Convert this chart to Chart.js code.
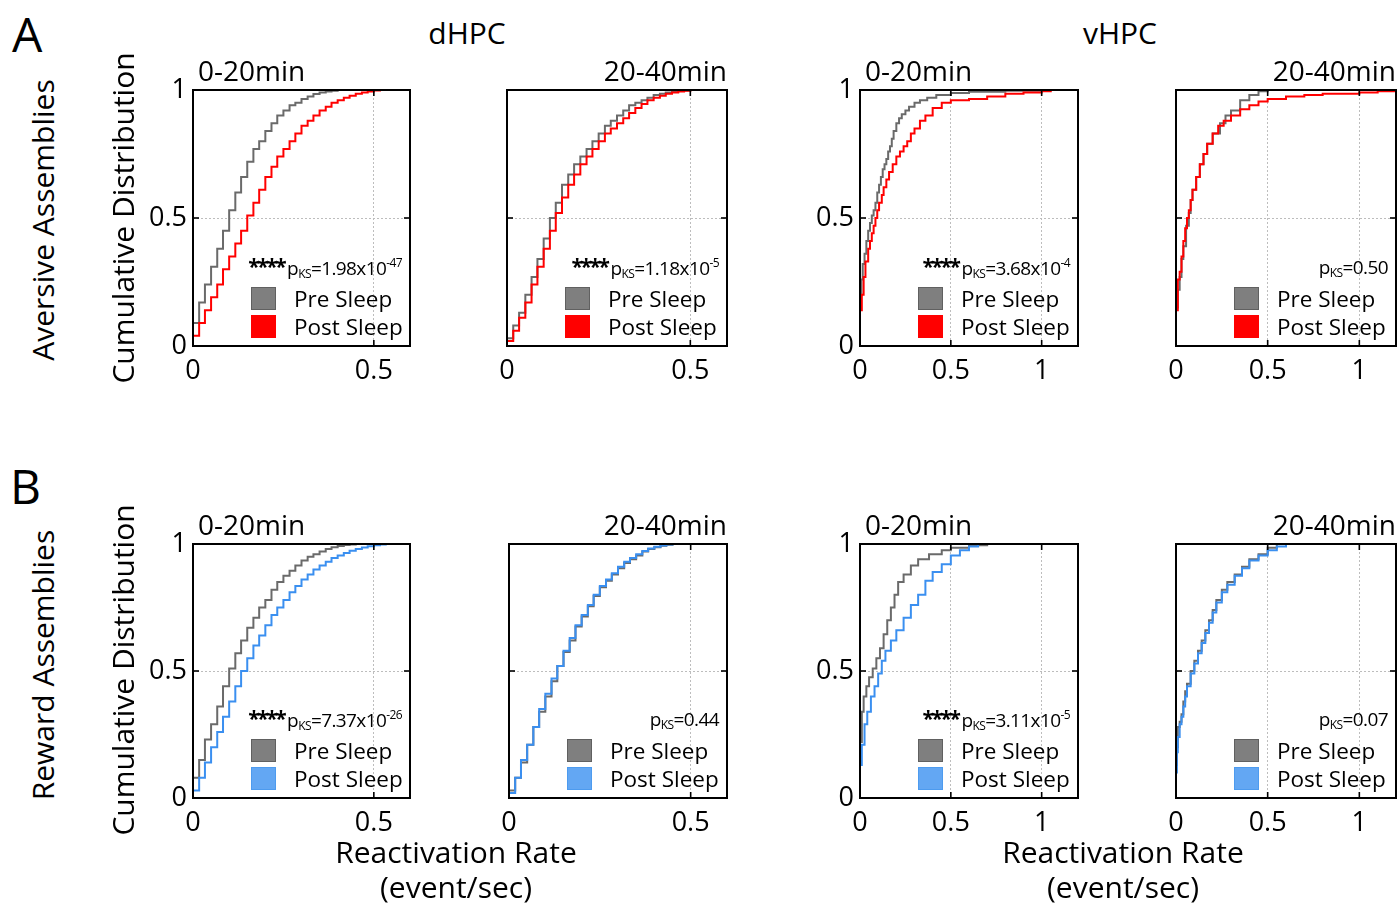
<!DOCTYPE html>
<html>
<head>
<meta charset="utf-8">
<script src="https://cdn.jsdelivr.net/npm/chart.js@4.4.1/dist/chart.umd.min.js"></script>
<style>
    body { margin: 0; background: #fff; width: 1397px; height: 904px; position: relative; overflow: hidden; font-family: 'Open Sans', sans-serif; color: #000; }
    canvas { position: absolute; }
    .t { position: absolute; white-space: nowrap; line-height: 1; }
    .sq { position: absolute; width: 23px; height: 21px; border: 1px solid; }
    .pv { position: absolute; white-space: nowrap; line-height: 1; font-size: 19px; letter-spacing: -0.6px; }
    .pv .st { font-size: 21px; font-weight: bold; vertical-align: 1px; letter-spacing: -2.5px; margin-right: 3px; }
    .pv sub { font-size: 12px; vertical-align: -3px; }
    .pv sup { font-size: 12px; vertical-align: 8px; }
</style>
</head>
<body>
<script>
// reactivation rate bins for dHPC (event/sec)
const dhpcRate = [0, 0.017, 0.033, 0.05, 0.067, 0.083, 0.1, 0.117, 0.133, 0.15, 0.167, 0.183, 0.2, 0.217, 0.233, 0.25, 0.267, 0.283, 0.3, 0.317, 0.333, 0.35, 0.367, 0.383, 0.4, 0.417, 0.433, 0.45, 0.467, 0.483, 0.5, 0.517, 0.533, 0.55, 0.567, 0.583, 0.6];

// A - aversive assemblies, dHPC
const avDhpcEarlyPre  = [0.09, 0.17, 0.24, 0.31, 0.38, 0.45, 0.53, 0.60, 0.66, 0.72, 0.77, 0.80, 0.84, 0.87, 0.90, 0.92, 0.94, 0.95, 0.965, 0.975, 0.984, 0.99, 0.994, 0.997, 1, 1, 1, 1, 1, 1, 1, 1, 1, 1, 1, 1, 1];
const avDhpcEarlyPost = [0.04, 0.09, 0.14, 0.19, 0.24, 0.30, 0.35, 0.40, 0.45, 0.51, 0.56, 0.61, 0.66, 0.70, 0.74, 0.77, 0.80, 0.83, 0.86, 0.88, 0.90, 0.92, 0.935, 0.95, 0.96, 0.97, 0.978, 0.985, 0.99, 0.994, 0.998, 1, 1, 1, 1, 1, 1];
const avDhpcLatePre   = [0.03, 0.08, 0.13, 0.20, 0.27, 0.34, 0.42, 0.50, 0.56, 0.63, 0.67, 0.71, 0.74, 0.77, 0.80, 0.83, 0.86, 0.88, 0.90, 0.92, 0.94, 0.95, 0.96, 0.97, 0.98, 0.985, 0.99, 0.993, 0.996, 0.998, 1, 1, 1, 1, 1, 1, 1];
const avDhpcLatePost  = [0.02, 0.06, 0.11, 0.17, 0.24, 0.31, 0.38, 0.45, 0.52, 0.58, 0.63, 0.67, 0.71, 0.74, 0.77, 0.80, 0.83, 0.85, 0.87, 0.89, 0.91, 0.93, 0.945, 0.96, 0.97, 0.978, 0.985, 0.99, 0.994, 0.997, 1, 1, 1, 1, 1, 1, 1];

// B - reward assemblies, dHPC
const rwDhpcEarlyPre  = [0.08, 0.15, 0.23, 0.29, 0.36, 0.44, 0.51, 0.57, 0.62, 0.67, 0.71, 0.75, 0.78, 0.82, 0.85, 0.875, 0.895, 0.915, 0.935, 0.95, 0.96, 0.97, 0.98, 0.987, 0.992, 0.996, 0.998, 1, 1, 1, 1, 1, 1, 1, 1, 1, 1];
const rwDhpcEarlyPost = [0.03, 0.08, 0.14, 0.20, 0.26, 0.32, 0.38, 0.44, 0.50, 0.55, 0.60, 0.64, 0.68, 0.72, 0.75, 0.78, 0.81, 0.835, 0.86, 0.88, 0.90, 0.915, 0.93, 0.945, 0.955, 0.965, 0.973, 0.98, 0.986, 0.991, 0.995, 0.998, 1, 1, 1, 1, 1];
const rwDhpcLatePre   = [0.03, 0.08, 0.14, 0.21, 0.28, 0.34, 0.40, 0.46, 0.52, 0.575, 0.62, 0.675, 0.715, 0.755, 0.795, 0.83, 0.855, 0.88, 0.905, 0.925, 0.94, 0.955, 0.97, 0.98, 0.987, 0.993, 0.997, 1, 1, 1, 1, 1, 1, 1, 1, 1, 1];
const rwDhpcLatePost  = [0.02, 0.08, 0.15, 0.21, 0.28, 0.35, 0.41, 0.47, 0.52, 0.58, 0.63, 0.68, 0.72, 0.76, 0.80, 0.835, 0.86, 0.885, 0.91, 0.93, 0.945, 0.96, 0.972, 0.982, 0.989, 0.994, 0.998, 1, 1, 1, 1, 1, 1, 1, 1, 1, 1];

// A - aversive assemblies, vHPC (rate, cumulative fraction)
const avVhpcEarlyPreX  = [0, 0.008, 0.015, 0.025, 0.035, 0.045, 0.055, 0.065, 0.075, 0.085, 0.095, 0.105, 0.115, 0.125, 0.135, 0.145, 0.155, 0.165, 0.175, 0.185, 0.2, 0.215, 0.23, 0.25, 0.27, 0.3, 0.33, 0.37, 0.42, 0.5, 0.6, 0.8, 1.0, 1.2];
const avVhpcEarlyPreY  = [0.2, 0.26, 0.32, 0.36, 0.41, 0.45, 0.48, 0.51, 0.53, 0.56, 0.6, 0.63, 0.66, 0.69, 0.71, 0.73, 0.76, 0.78, 0.81, 0.84, 0.87, 0.89, 0.905, 0.92, 0.935, 0.95, 0.96, 0.97, 0.98, 0.988, 0.993, 0.997, 1, 1];
const avVhpcEarlyPostX = [0, 0.01, 0.02, 0.03, 0.045, 0.055, 0.065, 0.075, 0.085, 0.095, 0.105, 0.12, 0.13, 0.145, 0.16, 0.18, 0.2, 0.22, 0.24, 0.26, 0.28, 0.3, 0.33, 0.36, 0.4, 0.45, 0.5, 0.6, 0.7, 0.8, 0.9, 1.0, 1.05, 1.2];
const avVhpcEarlyPostY = [0.14, 0.2, 0.27, 0.33, 0.38, 0.41, 0.44, 0.47, 0.5, 0.53, 0.56, 0.59, 0.62, 0.65, 0.68, 0.71, 0.74, 0.76, 0.78, 0.8, 0.83, 0.85, 0.88, 0.9, 0.93, 0.95, 0.96, 0.965, 0.975, 0.985, 0.99, 0.995, 1, 1];
const avVhpcLatePreX   = [0, 0.01, 0.02, 0.03, 0.04, 0.055, 0.07, 0.08, 0.09, 0.11, 0.13, 0.15, 0.17, 0.2, 0.24, 0.27, 0.3, 0.35, 0.4, 0.45, 0.5, 1.2];
const avVhpcLatePreY   = [0.15, 0.22, 0.27, 0.34, 0.39, 0.47, 0.52, 0.57, 0.61, 0.66, 0.71, 0.75, 0.79, 0.83, 0.87, 0.9, 0.92, 0.96, 0.98, 0.995, 1, 1];
const avVhpcLatePostX  = [0, 0.01, 0.02, 0.03, 0.04, 0.05, 0.06, 0.07, 0.08, 0.09, 0.11, 0.13, 0.15, 0.17, 0.2, 0.23, 0.26, 0.3, 0.35, 0.4, 0.45, 0.5, 0.6, 0.7, 0.8, 1.0, 1.1, 1.2];
const avVhpcLatePostY  = [0.14, 0.26, 0.29, 0.35, 0.41, 0.46, 0.5, 0.53, 0.57, 0.61, 0.66, 0.71, 0.75, 0.79, 0.83, 0.86, 0.88, 0.9, 0.925, 0.94, 0.955, 0.965, 0.975, 0.98, 0.985, 0.99, 0.995, 1];

// B - reward assemblies, vHPC
const rwVhpcEarlyPreX  = [0, 0.01, 0.02, 0.035, 0.05, 0.07, 0.09, 0.11, 0.13, 0.15, 0.17, 0.19, 0.21, 0.24, 0.28, 0.32, 0.38, 0.45, 0.5, 0.6, 0.7, 1.2];
const rwVhpcEarlyPreY  = [0.22, 0.34, 0.4, 0.44, 0.475, 0.51, 0.55, 0.59, 0.645, 0.7, 0.75, 0.8, 0.85, 0.88, 0.915, 0.94, 0.96, 0.975, 0.985, 0.995, 1, 1];
const rwVhpcEarlyPostX = [0, 0.01, 0.025, 0.04, 0.06, 0.08, 0.1, 0.12, 0.14, 0.17, 0.2, 0.24, 0.28, 0.32, 0.36, 0.4, 0.45, 0.5, 0.55, 0.6, 0.65, 1.2];
const rwVhpcEarlyPostY = [0.13, 0.21, 0.29, 0.34, 0.4, 0.44, 0.49, 0.54, 0.58, 0.62, 0.66, 0.71, 0.76, 0.8, 0.855, 0.89, 0.92, 0.955, 0.975, 0.99, 1, 1];
const rwVhpcLatePreX   = [0, 0.005, 0.01, 0.02, 0.03, 0.04, 0.05, 0.06, 0.08, 0.1, 0.12, 0.14, 0.16, 0.18, 0.2, 0.22, 0.25, 0.28, 0.32, 0.36, 0.4, 0.45, 0.5, 0.55, 1.2];
const rwVhpcLatePreY   = [0.13, 0.2, 0.28, 0.3, 0.33, 0.38, 0.42, 0.45, 0.5, 0.54, 0.58, 0.62, 0.66, 0.7, 0.74, 0.78, 0.82, 0.85, 0.88, 0.91, 0.94, 0.96, 0.985, 1, 1];
const rwVhpcLatePostX  = [0, 0.005, 0.01, 0.02, 0.03, 0.04, 0.05, 0.06, 0.08, 0.1, 0.12, 0.14, 0.16, 0.18, 0.2, 0.22, 0.25, 0.28, 0.32, 0.36, 0.4, 0.45, 0.5, 0.55, 0.6, 1.2];
const rwVhpcLatePostY  = [0.1, 0.18, 0.24, 0.29, 0.32, 0.36, 0.4, 0.44, 0.49, 0.53, 0.57, 0.61, 0.65, 0.69, 0.73, 0.77, 0.81, 0.84, 0.875, 0.905, 0.935, 0.955, 0.975, 0.99, 1, 1];

const yTicks = ['0', '0.5', '1'];
const xTicks = ['0', '0.5', '1'];
const seriesNames = ['Pre Sleep', 'Post Sleep'];

const GRAY = '#6a6a6a';
const RED = '#ff0000';
const BLUE = '#3a8ff0';
const legendFill = { gray: ['#7f7f7f', '#606060'], red: ['#ff0000', '#ff0000'], blue: ['#63a7f3', '#4d9bef'] };

const FONT = "'Open Sans', sans-serif";

function pts(xs, ys) {
    return xs.map((x, i) => ({ x: x, y: ys[i] }));
}

// box drawn around plot area with inward tick marks, matlab style
const boxPlugin = {
    id: 'box',
    afterDraw(chart) {
        const { ctx, chartArea: a, scales } = chart;
        const x = scales.x, y = scales.y;
        ctx.save();
        ctx.strokeStyle = '#000';
        ctx.lineWidth = 1.6;
        const seg = (x1, y1, x2, y2) => { ctx.beginPath(); ctx.moveTo(x1, y1); ctx.lineTo(x2, y2); ctx.stroke(); };
        x.ticks.forEach(t => {
            if (t.value <= x.min || t.value >= x.max) return;
            const px = x.getPixelForValue(t.value);
            seg(px, a.bottom, px, a.bottom - 6);
            seg(px, a.top, px, a.top + 6);
        });
        y.ticks.forEach(t => {
            if (t.value <= y.min || t.value >= y.max) return;
            const py = y.getPixelForValue(t.value);
            seg(a.left, py, a.left + 6, py);
            seg(a.right, py, a.right - 6, py);
        });
        ctx.lineWidth = 2;
        ctx.strokeRect(a.left, a.top, a.right - a.left, a.bottom - a.top);
        ctx.restore();
    }
};

const panels = [
    { box: [193, 90, 410, 346], xMax: 0.6, yLabels: true, title: '0-20min', tSide: 'l',
      pre: pts(dhpcRate, avDhpcEarlyPre), post: pts(dhpcRate, avDhpcEarlyPost), postColor: RED, leg: 'red', stars: '****', p: '1.98x10', e: '-47' },
    { box: [507, 90, 727, 346], xMax: 0.6, yLabels: false, title: '20-40min', tSide: 'r',
      pre: pts(dhpcRate, avDhpcLatePre), post: pts(dhpcRate, avDhpcLatePost), postColor: RED, leg: 'red', stars: '****', p: '1.18x10', e: '-5' },
    { box: [860, 90, 1078, 346], xMax: 1.2, yLabels: true, title: '0-20min', tSide: 'l',
      pre: pts(avVhpcEarlyPreX, avVhpcEarlyPreY), post: pts(avVhpcEarlyPostX, avVhpcEarlyPostY), postColor: RED, leg: 'red', stars: '****', p: '3.68x10', e: '-4' },
    { box: [1176, 90, 1396, 346], xMax: 1.2, yLabels: false, title: '20-40min', tSide: 'r',
      pre: pts(avVhpcLatePreX, avVhpcLatePreY), post: pts(avVhpcLatePostX, avVhpcLatePostY), postColor: RED, leg: 'red', stars: '', p: '0.50', e: '' },
    { box: [193, 544, 410, 798], xMax: 0.6, yLabels: true, title: '0-20min', tSide: 'l',
      pre: pts(dhpcRate, rwDhpcEarlyPre), post: pts(dhpcRate, rwDhpcEarlyPost), postColor: BLUE, leg: 'blue', stars: '****', p: '7.37x10', e: '-26' },
    { box: [509, 544, 727, 798], xMax: 0.6, yLabels: false, title: '20-40min', tSide: 'r',
      pre: pts(dhpcRate, rwDhpcLatePre), post: pts(dhpcRate, rwDhpcLatePost), postColor: BLUE, leg: 'blue', stars: '', p: '0.44', e: '' },
    { box: [860, 544, 1078, 798], xMax: 1.2, yLabels: true, title: '0-20min', tSide: 'l',
      pre: pts(rwVhpcEarlyPreX, rwVhpcEarlyPreY), post: pts(rwVhpcEarlyPostX, rwVhpcEarlyPostY), postColor: BLUE, leg: 'blue', stars: '****', p: '3.11x10', e: '-5' },
    { box: [1176, 544, 1396, 798], xMax: 1.2, yLabels: false, title: '20-40min', tSide: 'r',
      pre: pts(rwVhpcLatePreX, rwVhpcLatePreY), post: pts(rwVhpcLatePostX, rwVhpcLatePostY), postColor: BLUE, leg: 'blue', stars: '', p: '0.07', e: '' }
];

function addText(text, x, y, size, align, rotate) {
    const el = document.createElement('div');
    el.className = 't';
    el.textContent = text;
    el.style.fontSize = size + 'px';
    el.style.left = x + 'px';
    el.style.top = y + 'px';
    const tx = align === 'l' ? '0' : align === 'r' ? '-100%' : '-50%';
    el.style.transform = `translate(${tx}, -50%)` + (rotate ? ' rotate(-90deg)' : '');
    if (rotate) el.style.transformOrigin = '50% 50%';
    document.body.appendChild(el);
    return el;
}

function gridColor(c) {
    const s = c.scale;
    if (!c.tick || c.tick.value <= s.min || c.tick.value >= s.max) return 'rgba(0,0,0,0)';
    return '#bdbdbd';
}

function makePanel(p) {
    const padL = 60, padT = 26, padR = 12, padB = 45;
    const [l, t, r, b] = p.box;
    const cv = document.createElement('canvas');
    cv.width = (r - l) + padL + padR;
    cv.height = (b - t) + padT + padB;
    cv.style.left = (l - padL) + 'px';
    cv.style.top = (t - padT) + 'px';
    document.body.appendChild(cv);

    new Chart(cv, {
        type: 'line',
        data: {
            datasets: [
                { label: seriesNames[1], data: p.post, borderColor: p.postColor, borderWidth: 2, pointRadius: 0, stepped: true, fill: false },
                { label: seriesNames[0], data: p.pre, borderColor: GRAY, borderWidth: 2, pointRadius: 0, stepped: true, fill: false }
            ]
        },
        options: {
            responsive: false,
            animation: false,
            devicePixelRatio: 1,
            layout: { padding: { top: padT, right: padR, left: 0, bottom: 0 } },
            plugins: { legend: { display: false }, tooltip: { enabled: false } },
            scales: {
                x: {
                    type: 'linear', min: 0, max: p.xMax,
                    afterFit(s) { s.height = padB; },
                    ticks: {
                        stepSize: 0.5, includeBounds: false, padding: 9, maxRotation: 0, autoSkip: false, color: '#000', font: { family: FONT, size: 27 },
                        callback: (v, i) => xTicks[i]
                    },
                    grid: { drawTicks: false, color: gridColor, lineWidth: 1 },
                    border: { display: false, dash: [2, 2] }
                },
                y: {
                    type: 'linear', min: 0, max: 1,
                    afterFit(s) { s.width = padL; },
                    ticks: {
                        stepSize: 0.5, padding: 6, color: '#000', font: { family: FONT, size: 27 },
                        callback: (v, i) => p.yLabels ? yTicks[i] : ''
                    },
                    grid: { drawTicks: false, color: gridColor, lineWidth: 1 },
                    border: { display: false, dash: [2, 2] }
                }
            }
        },
        plugins: [boxPlugin]
    });

    // panel title
    if (p.tSide === 'l') addText(p.title, l + 5, t - 20, 28, 'l');
    else addText(p.title, r, t - 20, 28, 'r');

    // legend
    const fills = [legendFill.gray, legendFill[p.leg]];
    seriesNames.forEach((name, i) => {
        const sq = document.createElement('div');
        sq.className = 'sq';
        sq.style.left = (l + 58) + 'px';
        sq.style.top = (b - 59 + i * 28) + 'px';
        sq.style.background = fills[i][0];
        sq.style.borderColor = fills[i][1];
        document.body.appendChild(sq);
        addText(name, l + 101, b - 47 + i * 28, 22.5, 'l');
    });

    // KS p value
    const pv = document.createElement('div');
    pv.className = 'pv';
    pv.innerHTML = (p.stars ? `<span class="st">${p.stars}</span>` : '') + `p<sub>KS</sub>=${p.p}` + (p.e ? `<sup>${p.e}</sup>` : '');
    pv.style.left = (r - 8) + 'px';
    pv.style.top = (b - 78) + 'px';
    pv.style.transform = 'translate(-100%, -50%)';
    document.body.appendChild(pv);
}

panels.forEach(makePanel);

// figure labels
addText('A', 12, 34, 48, 'l');
addText('B', 10, 486, 48, 'l');
addText('dHPC', 467, 33, 30, 'c');
addText('vHPC', 1120, 33, 30, 'c');
addText('Aversive Assemblies', 43, 220, 30, 'c', true);
addText('Reward Assemblies', 43, 665, 30, 'c', true);
addText('Cumulative Distribution', 123, 218, 30, 'c', true);
addText('Cumulative Distribution', 123, 670, 30, 'c', true);
addText('Reactivation Rate', 456, 852, 30, 'c');
addText('(event/sec)', 456, 887, 30, 'c');
addText('Reactivation Rate', 1123, 852, 30, 'c');
addText('(event/sec)', 1123, 887, 30, 'c');
</script>
</body>
</html>
